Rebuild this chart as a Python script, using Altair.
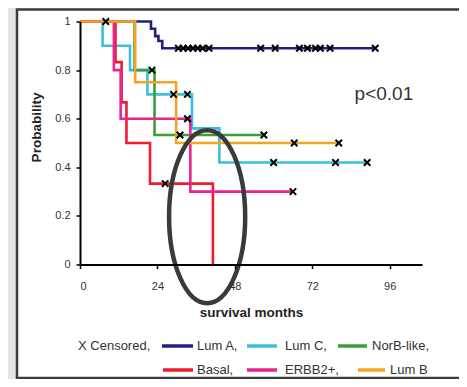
import altair as alt
import pandas as pd

# ---------------- data ----------------
groups = ["Lum A", "Lum C", "NorB-like", "Basal", "ERBB2+", "Lum B"]
colors = ["#22207e", "#3cbfdc", "#3a9f3a", "#ee1c2e", "#e8258f", "#f5a322"]
legend_labels = ["Lum A,", "Lum C,", "NorB-like,", "Basal,", "ERBB2+,", "Lum B"]
censored_label = "X Censored,"

luma_t = [0, 22.0, 23.3, 24.3, 25.5, 91.5]
luma_s = [1, 0.97, 0.94, 0.92, 0.89, 0.89]
lumc_t = [0, 7.0, 15.5, 20.9, 34.7, 43.2, 89.0]
lumc_s = [1, 0.9, 0.8, 0.7, 0.56, 0.42, 0.42]
norb_t = [0, 16.9, 23.1, 57.0]
norb_s = [1, 0.8, 0.533, 0.533]
basal_t = [0, 11.0, 12.9, 14.4, 21.7, 41.2]
basal_s = [1, 0.833, 0.667, 0.5, 0.333, 0.0]
erbb2_t = [0, 10.5, 12.6, 34.2, 66.0]
erbb2_s = [1, 0.8, 0.6, 0.3, 0.3]
lumb_t = [0, 17.1, 29.8, 80.2]
lumb_s = [1, 0.75, 0.5, 0.5]

luma_ct = [8.0, 30.5, 32.0, 33.5, 35.0, 36.5, 38.0, 40.0, 56.0, 60.5, 68.0, 70.5, 73.0, 74.5, 77.5, 91.5]
luma_cs = [1.0, 0.89, 0.89, 0.89, 0.89, 0.89, 0.89, 0.89, 0.89, 0.89, 0.89, 0.89, 0.89, 0.89, 0.89, 0.89]
lumc_ct = [29.0, 33.3, 60.0, 79.2, 89.0]
lumc_cs = [0.7, 0.7, 0.42, 0.42, 0.42]
norb_ct = [22.3, 31.0, 57.0]
norb_cs = [0.8, 0.533, 0.533]
basal_ct = [26.4]
basal_cs = [0.333]
erbb2_ct = [33.3, 66.0]
erbb2_cs = [0.6, 0.3]
lumb_ct = [66.4, 80.2]
lumb_cs = [0.5, 0.5]

p_label = ["p<0.01"]
p_x = [94.2]
p_y = [0.70]

ring_x = [39.4]
ring_y = [0.197]

x_ticks = [0, 24, 48, 72, 96]
y_ticks = [0, 0.2, 0.4, 0.6, 0.8, 1]

# ---------------- tables ----------------
curve_sets = [luma_t, lumc_t, norb_t, basal_t, erbb2_t, lumb_t]
surv_sets = [luma_s, lumc_s, norb_s, basal_s, erbb2_s, lumb_s]
rows = []
for g, ts, ss in zip(groups, curve_sets, surv_sets):
    for i, (t, s) in enumerate(zip(ts, ss)):
        rows.append({"group": g, "t": t, "s": s, "i": i})
curves = pd.DataFrame(rows)

cens_t = [luma_ct, lumc_ct, norb_ct, basal_ct, erbb2_ct, lumb_ct]
cens_s = [luma_cs, lumc_cs, norb_cs, basal_cs, erbb2_cs, lumb_cs]
crow = []
for g, ts, ss in zip(groups, cens_t, cens_s):
    for t, s in zip(ts, ss):
        crow.append({"group": g, "t": t, "s": s})
cens = pd.DataFrame(crow)

ptext = pd.DataFrame({"t": p_x, "s": p_y, "label": p_label})
ring = pd.DataFrame({"t": ring_x, "s": ring_y})

FONT = "Liberation Sans"
XPATH = "M-1,-1L1,1M-1,1L1,-1"
ELLIPSE = "M-0.44,0A0.44,1 0 1,0 0.44,0A0.44,1 0 1,0 -0.44,0Z"

xscale = alt.Scale(domain=[0, 106], nice=False, zero=True)
yscale = alt.Scale(domain=[0, 1], nice=False)

xaxis = alt.Axis(values=x_ticks, format="d", title="survival months", grid=False,
                 domainColor="black", domainWidth=2, tickColor="black", tickWidth=1.5,
                 tickSize=4, labelPadding=12, labelFontSize=11, labelColor="#333",
                 labelFont=FONT, titleFont=FONT, titleFontSize=13.5, titleFontWeight="bold",
                 titleColor="#222", titleY=47.5, titleBaseline="middle", zindex=1)
yaxis = alt.Axis(values=y_ticks, format="~g", title="Probability", grid=False,
                 domainColor="black", domainWidth=2, tickColor="black", tickWidth=1.5,
                 tickSize=4, labelPadding=6, labelFontSize=11, labelColor="#333",
                 labelFont=FONT, titleFont=FONT, titleFontSize=13.5, titleFontWeight="bold",
                 titleColor="#222", titleX=-44, titleY=105.5, titleAngle=270,
                 titleAlign="center", titleBaseline="middle", zindex=1)

one = pd.DataFrame({"a": [0]})

frame = alt.Chart(one).mark_rect(
    fill="white", stroke="#3d3d3d", strokeWidth=2.5
).encode(x=alt.value(-63), x2=alt.value(400), y=alt.value(-12), y2=alt.value(356.5))

lines = alt.Chart(curves).mark_line(interpolate="step-after", strokeWidth=2.6).encode(
    x=alt.X("t:Q", scale=xscale, axis=xaxis),
    y=alt.Y("s:Q", scale=yscale, axis=yaxis),
    color=alt.Color("group:N", scale=alt.Scale(domain=groups, range=colors), legend=None),
    order="i:Q",
)

marks = alt.Chart(cens).mark_point(shape=XPATH, filled=False, color="black",
                                   strokeWidth=2, size=42, opacity=1).encode(
    x=alt.X("t:Q", scale=xscale),
    y=alt.Y("s:Q", scale=yscale),
)

ptxt = alt.Chart(ptext).mark_text(font=FONT, fontSize=19, color="#333").encode(
    x=alt.X("t:Q", scale=xscale), y=alt.Y("s:Q", scale=yscale), text="label:N"
)

ellipse = alt.Chart(ring).mark_point(shape=ELLIPSE, filled=False, stroke="#3a3a3a",
                                     strokeWidth=4.5, size=29929, opacity=1).encode(
    x=alt.X("t:Q", scale=xscale), y=alt.Y("s:Q", scale=yscale)
)

# ---------------- hand-laid legend (pixel layout, relative to plot origin) ----------------
ROW1, ROW2 = 324.5, 348.5
swatch_layout = [(82, 113, ROW1), (167, 197, ROW1), (258, 287, ROW1),
                 (83, 113, ROW2), (167, 197, ROW2), (278, 305, ROW2)]
label_layout = [(117, ROW1), (205, ROW1), (292, ROW1),
                (117, ROW2), (205, ROW2), (310, ROW2)]

legend_layers = [
    alt.Chart(one).mark_text(text=censored_label, font=FONT, fontSize=13, color="#333",
                             align="left", baseline="middle").encode(
        x=alt.value(-2), y=alt.value(ROW1))
]
for col, (x1, x2, yy) in zip(colors, swatch_layout):
    legend_layers.append(
        alt.Chart(one).mark_rule(strokeWidth=3.5, color=col).encode(
            x=alt.value(x1), x2=alt.value(x2), y=alt.value(yy))
    )
for lab, (xx, yy) in zip(legend_labels, label_layout):
    legend_layers.append(
        alt.Chart(one).mark_text(text=lab, font=FONT, fontSize=13, color="#333",
                                 align="left", baseline="middle").encode(
            x=alt.value(xx), y=alt.value(yy))
    )

chart = alt.layer(frame, lines, marks, ptxt, ellipse, *legend_layers).properties(
    width=342, height=243,
    background="#e7e5e1",
    padding={"left": 72, "top": 13.5, "right": 37, "bottom": 114.5},
    autosize=alt.AutoSizeParams(type="none"),
).configure_view(stroke=None)

chart.save("out.html", embed_options={"renderer": "svg", "actions": False})
